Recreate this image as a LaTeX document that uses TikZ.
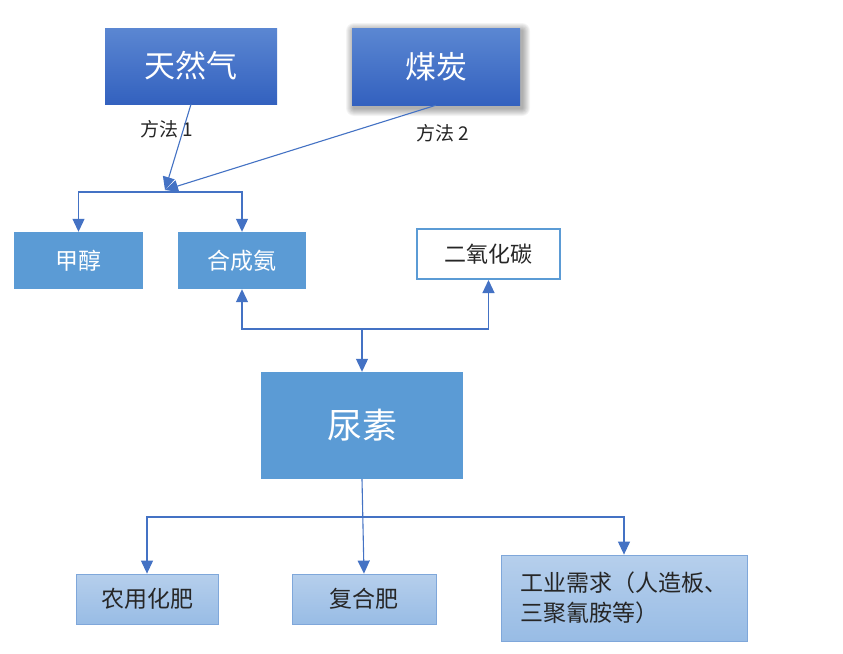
\documentclass[tikz,border=0pt]{standalone}
\usepackage{fontspec}
\setmainfont{Noto Sans CJK SC}
\usetikzlibrary{arrows.meta}
\definecolor{lineblue}{HTML}{4472C4}
\definecolor{topA}{HTML}{5B87D2}
\definecolor{topB}{HTML}{3361BF}
\definecolor{midblue}{HTML}{5B9BD5}
\definecolor{lowA}{HTML}{B6CFEC}
\definecolor{lowB}{HTML}{98BCE5}
\definecolor{lowedge}{HTML}{7FA7DA}
\definecolor{txtgray}{HTML}{262626}
\begin{document}
\begin{tikzpicture}[x=1pt,y=-1pt,
  topbox/.style={top color=topA, bottom color=topB, draw=none, text=white,
    inner sep=0pt, font=\fontsize{31}{34}\selectfont},
  midbox/.style={fill=midblue, draw=none, text=white, inner sep=0pt,
    font=\fontsize{23}{26}\selectfont},
  co2box/.style={fill=white, draw=midblue, line width=2pt, text=txtgray, inner sep=0pt,
    font=\fontsize{22}{26}\selectfont},
  lowbox/.style={top color=lowA, bottom color=lowB, draw=lowedge, line width=0.8pt,
    text=txtgray, inner sep=0pt, font=\fontsize{23}{30}\selectfont},
  lbl/.style={text=txtgray, font=\fontsize{19}{22}\selectfont},
  conn/.style={draw=lineblue, line width=1.1pt},
  arr/.style={-{Triangle[length=13pt,width=12pt]}},
  softshadow/.style={fill=black, opacity=0.045}
]
\useasboundingbox (0,0) rectangle (843,653);
\fill[white] (0,0) rectangle (843,653);

% soft shadow of the coal box
\foreach \i in {1,...,8}
  \fill[softshadow, rounded corners=\i pt] (354-\i,31-\i) rectangle (522+\i,108+\i);

\node[topbox, minimum width=172pt, minimum height=76pt] (gas) at (191,66) {天然气};
\node[topbox, minimum width=168pt, minimum height=77pt] (coal) at (436,66.5) {煤炭};
\node[lbl] (m1) at (167,129) {方法 1};
\node[lbl] (m2) at (443,133) {方法 2};

\node[midbox, minimum width=129pt, minimum height=57pt] (meth) at (78.5,260.5) {甲醇};
\node[midbox, minimum width=128pt, minimum height=57pt] (amm) at (242,260.5) {合成氨};
\node[co2box, minimum width=143pt, minimum height=50pt] (co2) at (488.5,254) {二氧化碳};

\node[midbox, minimum width=202pt, minimum height=107pt,
  font=\fontsize{35}{38}\selectfont] (urea) at (362,425.5) {尿素};

\node[lowbox, minimum width=142pt, minimum height=50pt] (f1) at (147,599) {农用化肥};
\node[lowbox, minimum width=144pt, minimum height=50pt] (f2) at (364,599) {复合肥};
\node[lowbox, minimum width=246pt, minimum height=86pt, align=left] (ind) at (624,598)
  {工业需求（人造板、\\三聚氰胺等）};

\coordinate (J) at (165,190);
\coordinate (B) at (165,192);
\coordinate (U) at (362,329);
\coordinate (D) at (362,517);

\draw[conn,arr] (gas.south) -- (J);
\draw[conn,arr] (coal.south) -- (J);
\draw[conn,arr] (B) -| (meth.north);
\draw[conn,arr] (B) -| (amm.north);

\draw[conn,arr] (U) -| (amm.south);
\draw[conn,arr] (U) -| (co2.south);
\draw[conn,arr] (U) -- (urea.north);

\draw[conn,arr] (urea.south) -- (f2.north);
\draw[conn,arr] (D) -| (f1.north);
\draw[conn,arr] (D) -| (ind.north);
\end{tikzpicture}
\end{document}
